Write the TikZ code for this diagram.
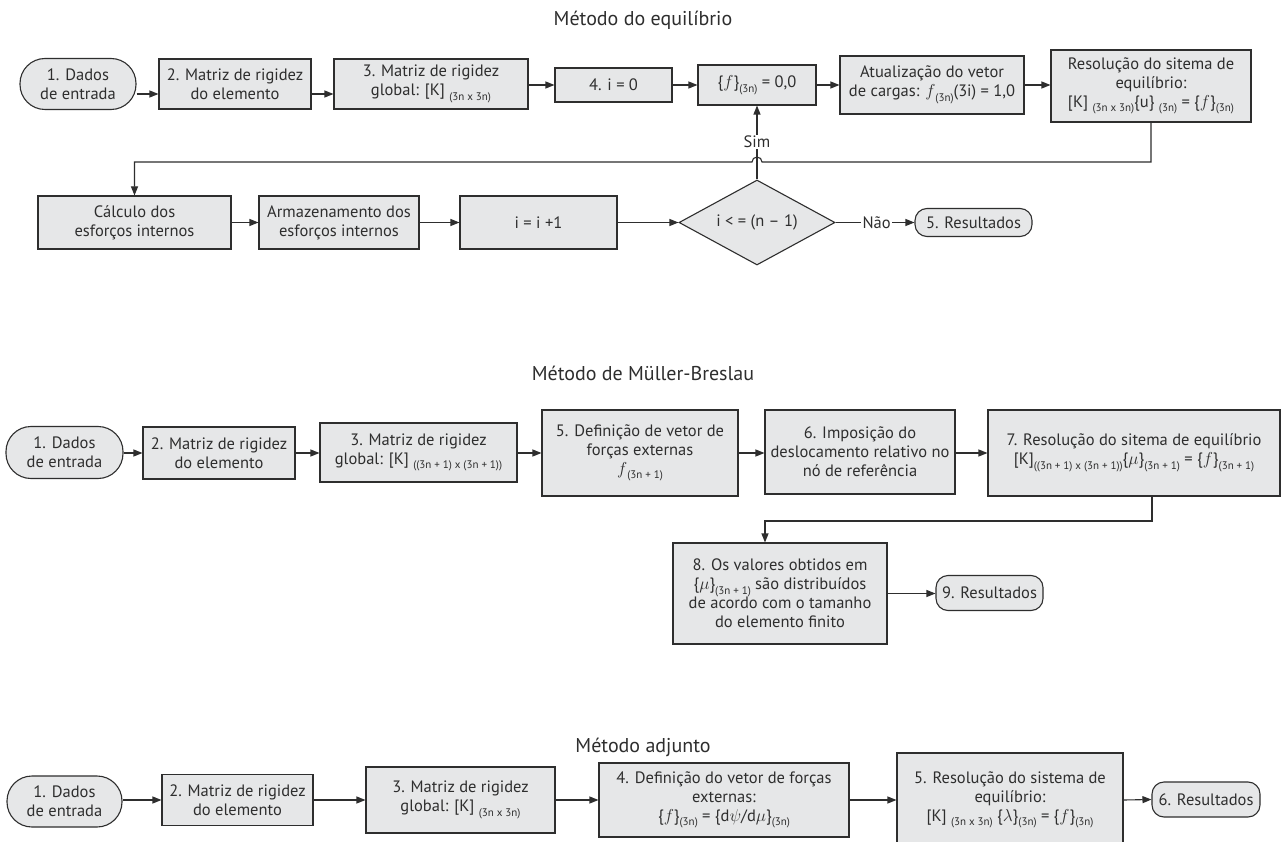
\documentclass[tikz,border=0pt]{standalone}
\usepackage{fontspec}
\setmainfont{PT Sans}
\usetikzlibrary{arrows.meta,shapes.geometric,calc}
\definecolor{boxfill}{HTML}{E6E7E8}
\definecolor{ink}{HTML}{2E2E2E}
% lowered small index, e.g. [K] (3n x 3n)
\newcommand\lw[1]{\raisebox{-0.55ex}{\fontsize{11}{12}\selectfont #1}}
\tikzset{
  every node/.style={text=ink, font=\fontsize{16.5}{19}\selectfont},
  box/.style={draw=ink, fill=boxfill, line width=1.1pt, align=center, inner sep=1pt},
  term/.style={box, rounded corners=25pt},
  smallterm/.style={box, rounded corners=12pt},
  decision/.style={box, diamond, shape aspect=1.83, inner sep=0pt},
  lin/.style={draw=ink, line width=1.1pt},
  arr/.style={lin, -{Triangle[length=9pt,width=7pt]}},
  title/.style={font=\fontsize{20}{23}\selectfont},
  lbl/.style={fill=white, inner sep=1.5pt}
}
\begin{document}
\begin{tikzpicture}[x=1pt,y=-1pt]
\useasboundingbox[fill=white] (0,0) rectangle (1287,842);

% ---------------- Método do equilíbrio ----------------
\node[title] (title1) at (643,20) {Método do equilíbrio};

\node[term, minimum width=116pt, minimum height=51pt] (t1) at (78,84) {1. Dados\\de entrada};
\node[box, minimum width=152pt, minimum height=50pt] (t2) at (235,84) {2. Matriz de rigidez\\do elemento};
\node[box, minimum width=194pt, minimum height=50pt] (t3) at (431,84) {3. Matriz de rigidez\\global: [K] \lw{(3n x 3n)}};
\node[box, minimum width=117pt, minimum height=34pt] (t4) at (613.5,85) {4. i = 0};
\node[box, minimum width=118pt, minimum height=40pt] (t5) at (757,85) {\{$f$\}\lw{(3n)} = 0,0};
\node[box, minimum width=184pt, minimum height=58pt] (t6) at (932,85) {Atualização do vetor\\de cargas: $f$\lw{(3n)}(3i) = 1,0};
\node[box, minimum width=200pt, minimum height=72pt] (t7) at (1151,86) {Resolução do sitema de\\equilíbrio:\\{}[K] \lw{(3n x 3n)}\{u\} \lw{(3n)} = \{$f$\}\lw{(3n)}};

\node[box, minimum width=193pt, minimum height=53pt] (c1) at (134.5,222.5) {Cálculo dos\\esforços internos};
\node[box, minimum width=160pt, minimum height=53pt] (c2) at (339,222.5) {Armazenamento dos\\esforços internos};
\node[box, minimum width=157pt, minimum height=53pt] (c3) at (538.5,222.5) {i = i +1};
\node[decision, minimum width=156pt, minimum height=85pt] (d) at (757,222.5) {i < = (n – 1)};
\node[smallterm, minimum width=117pt, minimum height=28pt] (r5) at (973.5,222.5) {5. Resultados};

\draw[arr] ([yshift=-10pt]t1.east) -- ([yshift=-10pt]t1.east -| t2.west);
\draw[arr] ([yshift=-10pt]t2.east) -- ([yshift=-10pt]t2.east -| t3.west);
\draw[arr] (t3.east |- t4.east) -- (t4.west);
\draw[arr] (t4.east) -- (t5.west);
\draw[arr] (t5.east) -- (t6.west);
\draw[arr] (t6.east) -- (t7.west |- t6.east);

% return path with a hop over the "Sim" line
\coordinate (hop) at (757,162);
\draw[arr] (t7.south) -- (t7.south |- hop) -- ([xshift=5pt]hop)
  arc[start angle=0, end angle=180, radius=5pt] -- (c1.north |- hop) -- (c1.north);

\draw[arr] (c1.east) -- (c2.west);
\draw[arr] (c2.east) -- (c3.west);
\draw[arr] (c3.east) -- (d.west);
\draw[arr] (d.east) -- node[lbl, pos=0.52] (nao) {Não} (r5.west);
\draw[arr] (d.north) -- (t5.south);
\node[lbl] (sim) at (757,142) {Sim};

% ---------------- Método de Müller-Breslau ----------------
\node[title] (title2) at (643,373) {Método de Müller-Breslau};

\node[term, minimum width=117pt, minimum height=52pt] (m1) at (64.5,452.5) {1. Dados\\de entrada};
\node[box, minimum width=152pt, minimum height=52pt] (m2) at (219,453) {2. Matriz de rigidez\\do elemento};
\node[box, minimum width=197pt, minimum height=59pt] (m3) at (418.5,452.5) {3. Matriz de rigidez\\global: [K] \lw{((3n + 1) x (3n + 1))}};
\node[box, minimum width=196pt, minimum height=86pt] (m5) at (640,453) {5. Definição de vetor de\\forças externas\\$f$\lw{(3n + 1)}};
\node[box, minimum width=190pt, minimum height=84pt] (m6) at (860,452) {6. Imposição do\\deslocamento relativo no\\nó de referência};
\node[box, minimum width=292pt, minimum height=86pt] (m7) at (1134,453) {7. Resolução do sitema de equilíbrio\\{}[K]\lw{((3n + 1) x (3n + 1))}\{$\mu$\}\lw{(3n + 1)} = \{$f$\}\lw{(3n + 1)}};
\node[box, minimum width=214pt, minimum height=101pt] (m8) at (780,593.5) {8. Os valores obtidos em\\\{$\mu$\}\lw{(3n + 1)} são distribuídos\\de acordo com o tamanho\\do elemento finito};
\node[smallterm, minimum width=107pt, minimum height=35pt] (m9) at (989.5,593) {9. Resultados};

\draw[arr] (m1.east |- m2.west) -- (m2.west);
\draw[arr] (m2.east) -- (m3.west |- m2.east);
\draw[arr] (m3.east |- m5.west) -- (m5.west);
\draw[arr] (m5.east) -- (m6.west |- m5.east);
\draw[arr] (m6.east |- m7.west) -- (m7.west);
\coordinate (bend2) at (765,521);
\draw[arr] ([xshift=18pt]m7.south) -- ([xshift=18pt]m7.south |- bend2) -- (bend2) -- (bend2 |- m8.north);
\draw[arr] (m8.east) -- (m9.west |- m8.east);

% ---------------- Método adjunto ----------------
\node[title] (title3) at (643,747) {Método adjunto};

\node[term, minimum width=115pt, minimum height=51pt] (b1) at (64.5,801.5) {1. Dados\\de entrada};
\node[box, minimum width=151pt, minimum height=51pt] (b2) at (237.5,800) {2. Matriz de rigidez\\do elemento};
\node[box, minimum width=189pt, minimum height=66pt] (b3) at (460.5,800) {3. Matriz de rigidez\\global: [K] \lw{(3n x 3n)}};
\node[box, minimum width=250pt, minimum height=74pt] (b4) at (724,800) {4. Definição do vetor de forças\\externas:\\\{$f$\}\lw{(3n)} = \{d$\psi$/d$\mu$\}\lw{(3n)}};
\node[box, minimum width=226pt, minimum height=94pt] (b5) at (1010,800) {5. Resolução do sistema de\\equilíbrio:\\{}[K] \lw{(3n x 3n)} \{$\lambda$\}\lw{(3n)} = \{$f$\}\lw{(3n)}};
\node[smallterm, minimum width=108pt, minimum height=35pt] (b6) at (1206,799.5) {6. Resultados};

\draw[arr] (b1.east |- b2.west) -- (b2.west);
\draw[arr] (b2.east) -- (b3.west);
\draw[arr] (b3.east) -- (b4.west);
\draw[arr] (b4.east) -- (b5.west);
\draw[arr] (b5.east) -- (b6.west);
\end{tikzpicture}
\end{document}
